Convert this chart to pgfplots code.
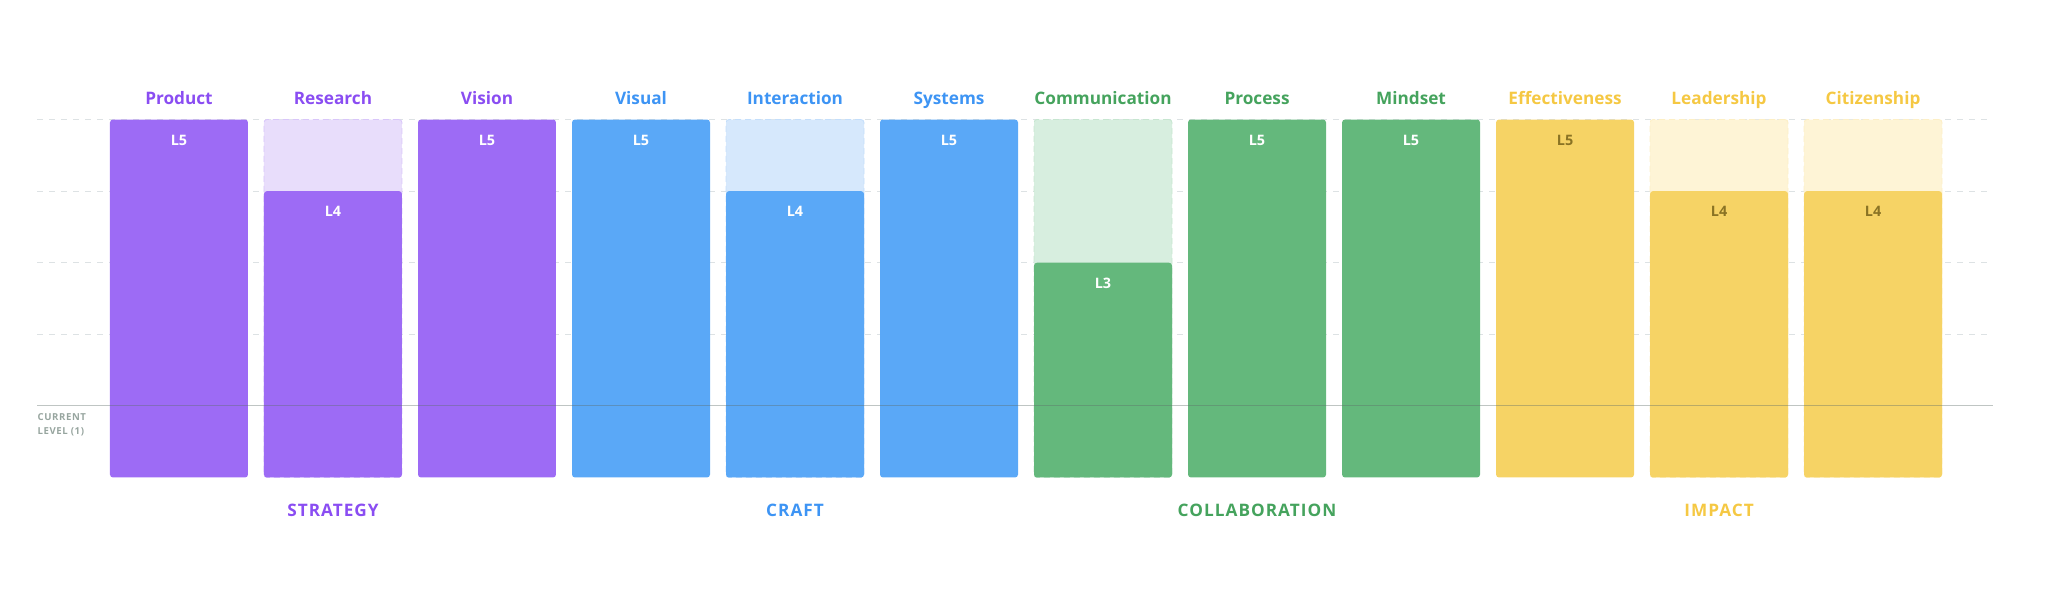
\documentclass[border=0pt]{standalone}
\usepackage{pgfplots}
\pgfplotsset{compat=1.18}
\usepackage{fontspec}
\setmainfont{Open Sans}
\newfontfamily\spaced[LetterSpace=6]{Open Sans}
\definecolor{purp}{HTML}{9D6BF5}
\definecolor{purpT}{HTML}{8A4DF2}
\definecolor{purpL}{HTML}{E8DDFB}
\definecolor{blu}{HTML}{5AA8F7}
\definecolor{bluT}{HTML}{3D94F4}
\definecolor{bluL}{HTML}{D6E8FC}
\definecolor{grn}{HTML}{64B87C}
\definecolor{grnT}{HTML}{45A35D}
\definecolor{grnL}{HTML}{D7EEDF}
\definecolor{yel}{HTML}{F6D365}
\definecolor{yelT}{HTML}{F5C843}
\definecolor{yelL}{HTML}{FEF4D6}
\definecolor{olive}{HTML}{8A7324}
\definecolor{gridc}{HTML}{DDE2E4}
\definecolor{curT}{HTML}{97A59F}
\definecolor{curL}{HTML}{5E6E69}
\begin{document}
\begin{tikzpicture}
\path[use as bounding box] (0pt,0pt) rectangle (1024pt,296.5pt);
\begin{axis}[
  at={(18.65pt,57.75pt)}, anchor=south west,
  scale only axis, width=977.85pt, height=179pt,
  xmin=-0.920, xmax=11.779, ymin=0, ymax=5,
  clip=false,
  axis line style={draw=none},
  xtick=\empty, ytick={2,3,4,5}, yticklabels={},
  major tick length=0pt,
  ymajorgrids,
  major grid style={draw=gridc, line width=0.6pt, dash pattern=on 3pt off 3pt},
  ybar, bar width=0.896, bar shift=0pt,
  every axis plot/.append style={rounded corners=1.5pt},
]
% target (level 5) backgrounds
\addplot[fill=purpL, draw=purpL!80!purp, densely dashed, line width=0.4pt] coordinates {(1,5)};
\addplot[fill=bluL, draw=bluL!85!blu, densely dashed, line width=0.4pt] coordinates {(4,5)};
\addplot[fill=grnL, draw=grnL!85!grn, densely dashed, line width=0.4pt] coordinates {(6,5)};
\addplot[fill=yelL, draw=yelL!85!yel, densely dashed, line width=0.4pt] coordinates {(10,5) (11,5)};
% achieved levels
\addplot[fill=purp, draw=none] coordinates {(0,5) (1,4) (2,5)};
\addplot[fill=blu, draw=none] coordinates {(3,5) (4,4) (5,5)};
\addplot[fill=grn, draw=none] coordinates {(6,3) (7,5) (8,5)};
\addplot[fill=yel, draw=none] coordinates {(9,5) (10,4) (11,4)};
% current level line
\addplot[sharp plot, draw=curL, draw opacity=0.4, line width=0.55pt, rounded corners=0pt] coordinates {(-0.920,1) (11.779,1)};

% level labels
\foreach \i/\v in {0/5,1/4,2/5,3/5,4/4,5/5,6/3,7/5,8/5}{
  \edef\tmp{\noexpand\node[anchor=base, yshift=-12.75pt, font=\noexpand\bfseries\noexpand\fontsize{7.2}{8}\noexpand\selectfont, text=white] at (axis cs:\i,\v) {L\v};}\tmp
}
\foreach \i/\v in {9/5,10/4,11/4}{
  \edef\tmp{\noexpand\node[anchor=base, yshift=-12.75pt, font=\noexpand\bfseries\noexpand\fontsize{7.2}{8}\noexpand\selectfont, text=olive] at (axis cs:\i,\v) {L\v};}\tmp
}
% category labels
\foreach \i/\n/\c in {0/Product/purpT,1/Research/purpT,2/Vision/purpT,3/Visual/bluT,4/Interaction/bluT,5/Systems/bluT,6/Communication/grnT,7/Process/grnT,8/Mindset/grnT,9/Effectiveness/yelT,10/Leadership/yelT,11/Citizenship/yelT}{
  \edef\tmp{\noexpand\node[anchor=base, yshift=7.6pt, font=\noexpand\bfseries\noexpand\fontsize{8.6}{10}\noexpand\selectfont, text=\c] at (axis cs:\i,5) {\n};}\tmp
}
% group labels
\foreach \i/\n/\c in {1/STRATEGY/purpT,4/CRAFT/bluT,7/COLLABORATION/grnT,10/IMPACT/yelT}{
  \edef\tmp{\noexpand\node[anchor=base, yshift=-19.4pt, font=\noexpand\spaced\noexpand\bfseries\noexpand\fontsize{8.6}{10}\noexpand\selectfont, text=\c] at (axis cs:\i,0) {\n};}\tmp
}
\node[anchor=north west, align=left, inner sep=0pt, yshift=-3.8pt, font=\spaced\bfseries\fontsize{4.8}{6.8}\selectfont, text=curT] at (axis cs:-0.920,1) {CURRENT\\LEVEL (1)};
\end{axis}
\end{tikzpicture}
\end{document}
